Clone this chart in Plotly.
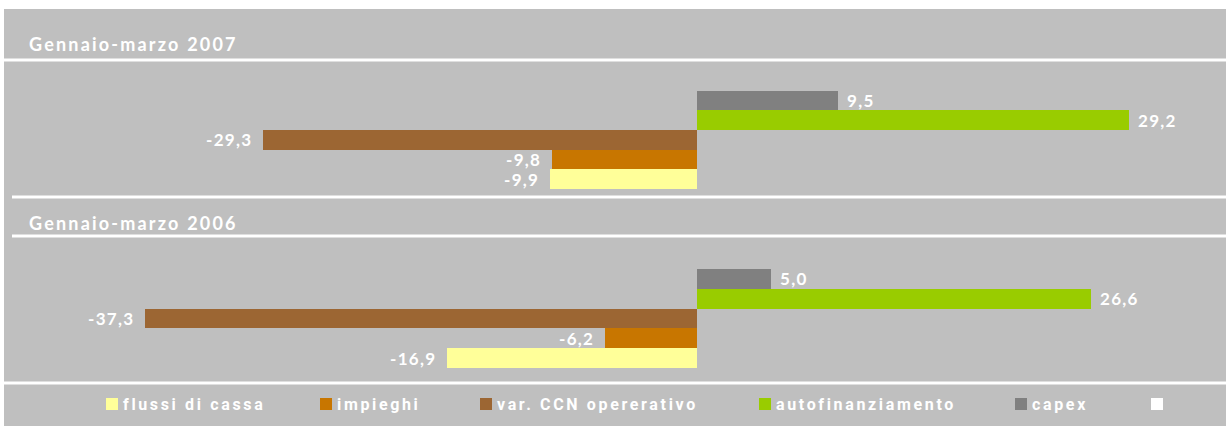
import plotly.graph_objects as go

# ---- data ----
categories = ["flussi di cassa", "impieghi", "var. CCN opererativo", "autofinanziamento", "capex", ""]
colors = ["#FFFF99", "#C87600", "#9C6633", "#99CC00", "#808080", "#FFFFFF"]
panel_titles = ["Gennaio-marzo 2007", "Gennaio-marzo 2006"]
values_2007 = [-9.9, -9.8, -29.3, 29.2, 9.5]
values_2006 = [-16.9, -6.2, -37.3, 26.6, 5.0]

W, H = 1226, 426
BG = "#BFBFBF"


def px_x(p):
    return p / W


def px_y(p):
    return 1 - p / H


def fmt(v):
    return f"{v:.1f}".replace(".", ",")


fig = go.Figure()

panels = [(values_2007, "x", "y"), (values_2006, "x2", "y2")]
annotations = []
for vals, xa, ya in panels:
    cats = categories[:len(vals)]
    fig.add_trace(go.Bar(
        x=vals, y=cats, orientation="h", xaxis=xa, yaxis=ya,
        marker=dict(color=colors[:len(vals)], line=dict(width=0)),
        showlegend=False, hoverinfo="x+y",
    ))
    for v, c in zip(vals, cats):
        annotations.append(dict(
            x=v, y=c, xref=xa, yref=ya, showarrow=False,
            text=f'<span style="letter-spacing:1.3px">{fmt(v)}</span>',
            xanchor="left" if v >= 0 else "right",
            xshift=7 if v >= 0 else -9, yshift=0,
            font=dict(family="Lato", size=17, color="white", weight="bold"),
        ))

# panel titles
for t, yp in zip(panel_titles, [44, 223]):
    annotations.append(dict(
        x=px_x(27), y=px_y(yp), xref="paper", yref="paper", showarrow=False,
        xanchor="left", yanchor="middle",
        text=f'<span style="letter-spacing:2.2px">{t}</span>',
        font=dict(family="Lato", size=18, color="white", weight="bold"),
    ))

# manual legend
legend_x = [106, 320, 480, 759, 1015, 1151]
shapes = [dict(type="rect", xref="paper", yref="paper",
               x0=px_x(4), x1=1, y0=0, y1=px_y(9),
               fillcolor=BG, line=dict(width=0), layer="below")]
for lx, name, col in zip(legend_x, categories, colors):
    shapes.append(dict(type="rect", xref="paper", yref="paper",
                       x0=px_x(lx), x1=px_x(lx + 12), y0=px_y(410), y1=px_y(398),
                       fillcolor=col, line=dict(width=0)))
    if name:
        annotations.append(dict(
            x=px_x(lx + 15), y=px_y(404), xref="paper", yref="paper", showarrow=False,
            xanchor="left", yanchor="middle",
            text=f'<span style="letter-spacing:2.65px">{name}</span>',
            font=dict(family="Roboto", size=16, color="white", weight="bold"),
        ))

# white separator lines
for yl, xs in [(60, 4), (197, 12), (236, 12), (383, 4)]:
    shapes.append(dict(type="line", xref="paper", yref="paper",
                       x0=px_x(xs), x1=1, y0=px_y(yl), y1=px_y(yl),
                       line=dict(color="white", width=3)))

zero_px, scale = 697, 14.8
xrange = [-zero_px / scale, (W - zero_px) / scale]
axis_off = dict(showgrid=False, zeroline=False, showticklabels=False, showline=False,
                ticks="", fixedrange=True)

fig.update_layout(
    width=W, height=H, margin=dict(l=0, r=0, t=0, b=0),
    paper_bgcolor="white", plot_bgcolor="rgba(0,0,0,0)",
    bargap=0, showlegend=False,
    xaxis=dict(range=xrange, domain=[0, 1], anchor="y", **axis_off),
    xaxis2=dict(range=xrange, domain=[0, 1], anchor="y2", **axis_off),
    yaxis=dict(domain=[px_y(189), px_y(71)], categoryorder="array", categoryarray=categories,
               range=[-0.5, 5.5], anchor="x", **axis_off),
    yaxis2=dict(domain=[px_y(368), px_y(249)], categoryorder="array", categoryarray=categories,
                range=[-0.5, 5.5], anchor="x2", **axis_off),
    shapes=shapes, annotations=annotations,
)

fig.write_html("out.html", config={"displayModeBar": False},
               post_script="document.body.style.margin='0';document.body.style.overflow='hidden';")
